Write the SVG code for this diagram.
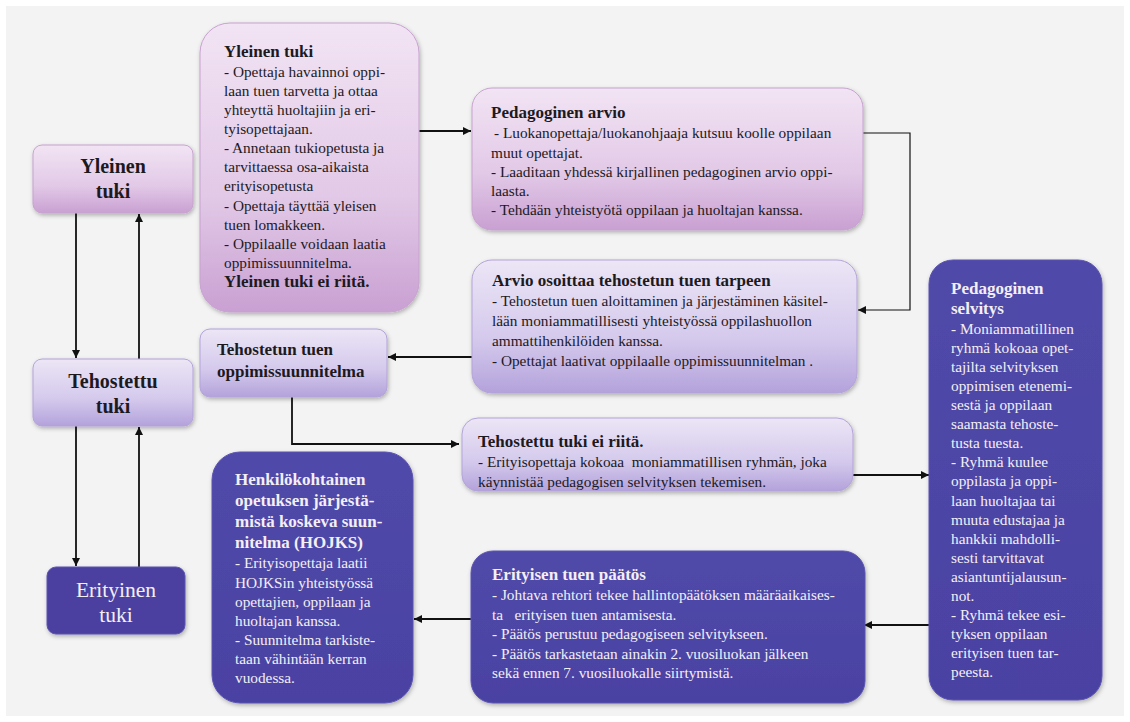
<svg xmlns="http://www.w3.org/2000/svg" width="1130" height="722" viewBox="0 0 1130 722" font-family="'Liberation Serif', 'DejaVu Serif', serif">
<style>
text{font-family:'Liberation Serif','DejaVu Serif',serif;fill:#1c1a1e}
.t{font-size:17px;font-weight:bold}
.b{font-size:15.3px}
.w{fill:#f4eff4}
.lbl{font-size:20px;font-weight:bold;text-anchor:middle}
.c{fill:none;stroke:#111;stroke-width:1.8}
.thin{stroke-width:1.2}
.pink{fill:url(#gPink);stroke:#c7a2cf;stroke-width:1}
.lav{fill:url(#gLav);stroke:#b3a3d9;stroke-width:1}
.dark{fill:url(#gDark);stroke:#5a54b0;stroke-width:1}
</style>
<defs>
<linearGradient id="gPink" x1="0" y1="0" x2="0" y2="1"><stop offset="0" stop-color="#f2e4f4"/><stop offset="0.6" stop-color="#e2c9e7"/><stop offset="1" stop-color="#c9a0d2"/></linearGradient>
<linearGradient id="gLav" x1="0" y1="0" x2="0" y2="1"><stop offset="0" stop-color="#ece6f6"/><stop offset="0.6" stop-color="#d4c9ec"/><stop offset="1" stop-color="#b3a2db"/></linearGradient>
<linearGradient id="gDark" x1="0" y1="0" x2="0" y2="1"><stop offset="0" stop-color="#5049a9"/><stop offset="1" stop-color="#4a42a3"/></linearGradient>
<filter id="sh" x="-10%" y="-10%" width="120%" height="120%"><feDropShadow dx="1" dy="2" stdDeviation="2" flood-color="#000" flood-opacity="0.28"/></filter>
<marker id="ah" viewBox="0 0 10 10" refX="10" refY="5" markerWidth="9" markerHeight="8" markerUnits="userSpaceOnUse" orient="auto"><path d="M0,0 L10,5 L0,10 z" fill="#111"/></marker>
</defs>
<rect x="0" y="0" width="1130" height="722" fill="#ffffff"/>
<rect x="6" y="6" width="1118" height="710" fill="#f3f3f3"/>

<g id="connectors">
<path class="c" d="M76,213 V358" marker-end="url(#ah)"/>
<path class="c" d="M139,359 V214" marker-end="url(#ah)"/>
<path class="c" d="M76,426 V566" marker-end="url(#ah)"/>
<path class="c" d="M139,567 V427" marker-end="url(#ah)"/>
<path class="c" d="M419,131 H471" marker-end="url(#ah)"/>
<path class="c thin" d="M863,133 H910 V310 H858" marker-end="url(#ah)"/>
<path class="c" d="M472,357 H388" marker-end="url(#ah)"/>
<path class="c" d="M292,397 V444 H459" marker-end="url(#ah)"/>
<path class="c" d="M853,475 H929" marker-end="url(#ah)"/>
<path class="c" d="M929,625 H864" marker-end="url(#ah)"/>
<path class="c" d="M471,619 H414" marker-end="url(#ah)"/>
</g>

<g id="n-yleinen-small">
<rect class="pink" x="33" y="145" width="160" height="68" rx="9" filter="url(#sh)"/>
<text class="lbl" x="113" y="173">Yleinen</text>
<text class="lbl" x="113" y="198">tuki</text>
</g>

<g id="n-tehostettu-small">
<rect class="lav" x="33" y="359" width="160" height="67" rx="9" filter="url(#sh)"/>
<text class="lbl" x="113" y="388">Tehostettu</text>
<text class="lbl" x="113" y="413">tuki</text>
</g>

<g id="n-erityinen-small">
<rect class="dark" x="47" y="567" width="138" height="67" rx="9" filter="url(#sh)" style="fill:#4c3f9f"/>
<text class="w" x="116" y="597" style="font-size:21.5px;text-anchor:middle">Erityinen</text>
<text class="w" x="116" y="622" style="font-size:21.5px;text-anchor:middle">tuki</text>
</g>

<g id="n-yleinen-big">
<rect class="pink" x="200" y="23" width="219" height="289" rx="30" filter="url(#sh)"/>
<text class="t" x="224" y="57">Yleinen tuki</text>
<text class="b" x="224" y="77">- Opettaja havainnoi oppi-</text>
<text class="b" x="224" y="96">laan tuen tarvetta ja ottaa</text>
<text class="b" x="224" y="115">yhteyttä huoltajiin ja eri-</text>
<text class="b" x="224" y="134">tyisopettajaan.</text>
<text class="b" x="224" y="153">- Annetaan tukiopetusta ja</text>
<text class="b" x="224" y="172">tarvittaessa osa-aikaista</text>
<text class="b" x="224" y="191">erityisopetusta</text>
<text class="b" x="224" y="211">- Opettaja täyttää yleisen</text>
<text class="b" x="224" y="230">tuen lomakkeen.</text>
<text class="b" x="224" y="249">- Oppilaalle voidaan laatia</text>
<text class="b" x="224" y="268">oppimissuunnitelma.</text>
<text class="t" x="224" y="287">Yleinen tuki ei riitä.</text>
</g>

<g id="n-pedagoginen-arvio">
<rect class="pink" x="472" y="88" width="391" height="142" rx="20" filter="url(#sh)"/>
<text class="t" x="491" y="118">Pedagoginen arvio</text>
<text class="b" x="494" y="138">- Luokanopettaja/luokanohjaaja kutsuu koolle oppilaan</text>
<text class="b" x="491" y="158">muut opettajat.</text>
<text class="b" x="491" y="177">- Laaditaan yhdessä kirjallinen pedagoginen arvio oppi-</text>
<text class="b" x="491" y="196">laasta.</text>
<text class="b" x="491" y="215">- Tehdään yhteistyötä oppilaan ja huoltajan kanssa.</text>
</g>

<g id="n-arvio-osoittaa">
<rect class="lav" x="472" y="260" width="385" height="133" rx="20" filter="url(#sh)"/>
<text class="t" x="492" y="286">Arvio osoittaa tehostetun tuen tarpeen</text>
<text class="b" x="492" y="306">- Tehostetun tuen aloittaminen ja järjestäminen käsitel-</text>
<text class="b" x="492" y="326">lään moniammatillisesti yhteistyössä oppilashuollon</text>
<text class="b" x="492" y="346">ammattihenkilöiden kanssa.</text>
<text class="b" x="492" y="366">- Opettajat laativat oppilaalle oppimissuunnitelman .</text>
</g>

<g id="n-tehostetun-oppimissuunnitelma">
<rect class="lav" x="200" y="329" width="187" height="68" rx="10" filter="url(#sh)"/>
<text class="t" x="217" y="355">Tehostetun tuen</text>
<text class="t" x="217" y="377">oppimissuunnitelma</text>
</g>

<g id="n-tehostettu-ei-riita">
<rect class="lav" x="462" y="418" width="391" height="73" rx="16" filter="url(#sh)"/>
<text class="t" x="478" y="447">Tehostettu tuki ei riitä.</text>
<text class="b" x="478" y="467" style="white-space:pre">- Erityisopettaja kokoaa  moniammatillisen ryhmän, joka</text>
<text class="b" x="478" y="487">käynnistää pedagogisen selvityksen tekemisen.</text>
</g>

<g id="n-pedagoginen-selvitys">
<rect class="dark" x="929" y="260" width="173" height="440" rx="24" filter="url(#sh)"/>
<text class="t w" x="951" y="294">Pedagoginen</text>
<text class="t w" x="951" y="314">selvitys</text>
<text class="b w" x="951" y="334">- Moniammatillinen</text>
<text class="b w" x="951" y="353">ryhmä kokoaa opet-</text>
<text class="b w" x="951" y="372">tajilta selvityksen</text>
<text class="b w" x="951" y="391">oppimisen etenemi-</text>
<text class="b w" x="951" y="410">sestä ja oppilaan</text>
<text class="b w" x="951" y="429">saamasta tehoste-</text>
<text class="b w" x="951" y="448">tusta tuesta.</text>
<text class="b w" x="951" y="467">- Ryhmä kuulee</text>
<text class="b w" x="951" y="486">oppilasta ja oppi-</text>
<text class="b w" x="951" y="506">laan huoltajaa tai</text>
<text class="b w" x="951" y="525">muuta edustajaa ja</text>
<text class="b w" x="951" y="544">hankkii mahdolli-</text>
<text class="b w" x="951" y="563">sesti tarvittavat</text>
<text class="b w" x="951" y="582">asiantuntijalausun-</text>
<text class="b w" x="951" y="601">not.</text>
<text class="b w" x="951" y="620">- Ryhmä tekee esi-</text>
<text class="b w" x="951" y="639">tyksen oppilaan</text>
<text class="b w" x="951" y="658">erityisen tuen tar-</text>
<text class="b w" x="951" y="677">peesta.</text>
</g>

<g id="n-erityisen-tuen-paatos">
<rect class="dark" x="471" y="551" width="394" height="152" rx="22" filter="url(#sh)"/>
<text class="t w" x="492" y="580">Erityisen tuen päätös</text>
<text class="b w" x="492" y="600">- Johtava rehtori tekee hallintopäätöksen määräaikaises-</text>
<text class="b w" x="492" y="620" style="white-space:pre">ta   erityisen tuen antamisesta.</text>
<text class="b w" x="492" y="639">- Päätös perustuu pedagogiseen selvitykseen.</text>
<text class="b w" x="492" y="659">- Päätös tarkastetaan ainakin 2. vuosiluokan jälkeen</text>
<text class="b w" x="492" y="678">sekä ennen 7. vuosiluokalle siirtymistä.</text>
</g>

<g id="n-hojks">
<rect class="dark" x="212" y="452" width="201" height="251" rx="28" filter="url(#sh)"/>
<text class="t w" x="235" y="485">Henkilökohtainen</text>
<text class="t w" x="235" y="506">opetuksen järjestä-</text>
<text class="t w" x="235" y="527">mistä koskeva suun-</text>
<text class="t w" x="235" y="548">nitelma (HOJKS)</text>
<text class="b w" x="235" y="568">- Erityisopettaja laatii</text>
<text class="b w" x="235" y="588">HOJKSin yhteistyössä</text>
<text class="b w" x="235" y="607">opettajien, oppilaan ja</text>
<text class="b w" x="235" y="626">huoltajan kanssa.</text>
<text class="b w" x="235" y="645">- Suunnitelma tarkiste-</text>
<text class="b w" x="235" y="664">taan vähintään kerran</text>
<text class="b w" x="235" y="683">vuodessa.</text>
</g>
</svg>
